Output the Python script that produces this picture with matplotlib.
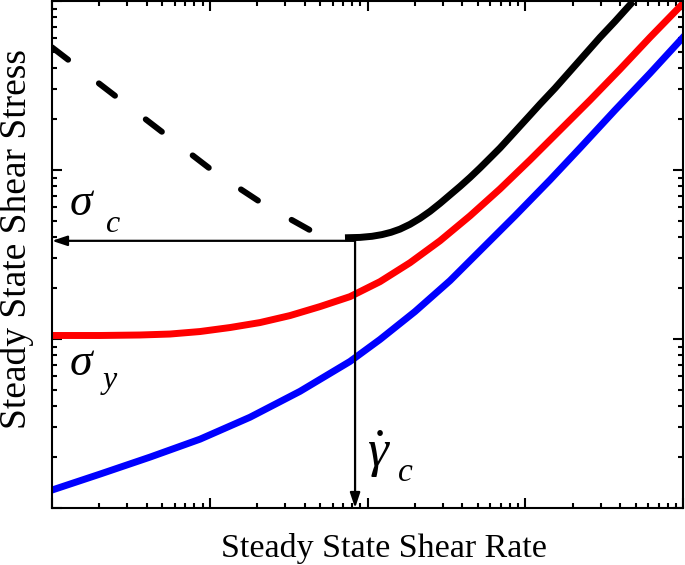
import matplotlib
matplotlib.use("Agg")
import matplotlib.pyplot as plt

# ---- data (log-log axes) ----
black_x = [0.720, 0.896, 1.068, 1.236, 1.409, 1.607, 1.860, 2.152, 2.490, 2.882,
           3.334, 3.858, 4.465, 5.166, 5.977, 6.917, 8.003, 9.262, 10.72, 12.40,
           15.44, 19.22, 23.92, 29.78, 37.06, 48.19]
black_y = [39.71, 39.92, 40.52, 41.47, 42.79, 44.68, 47.70, 51.75, 56.91, 63.44,
           71.21, 79.94, 90.32, 102.8, 117.7, 134.9, 156.5, 181.8, 211.1, 245.2,
           304.7, 383.8, 483.5, 609.2, 757.0, 993.3]

dash_x = [0.01, 0.1048, 0.2176, 0.4513]
dash_y = [531.8, 98.65, 63.01, 43.07]

red_x = [0.01, 0.02015, 0.03612, 0.05598, 0.08674, 0.1344, 0.2083, 0.3226, 0.4999,
         0.7747, 1.200, 1.860, 2.882, 4.465, 6.917, 10.72, 16.61, 25.73, 39.87,
         61.78, 100]
red_y = [10.49, 10.49, 10.56, 10.70, 11.07, 11.69, 12.51, 13.76, 15.55,
         17.81, 21.84, 28.27, 38.12, 53.53, 77.26, 114.6, 172.2, 258.8, 394.5,
         609.2, 966.7]

blue_x = [0.01, 0.02015, 0.04181, 0.08674, 0.1799, 0.3733, 0.7747, 1.200, 2.000,
          3.334, 5.166, 8.610, 14.35, 22.24, 37.06, 61.78, 100]
blue_y = [1.277, 1.587, 2.000, 2.554, 3.443, 4.901, 7.366, 9.933, 14.53,
          22.14, 33.28, 53.53, 87.30, 134.9, 225.9, 373.5, 609.2]

sigma_c = 38.1
gamma_c = 0.834
x_limits = [0.01, 100]
y_limits = [1, 1000]

# ---- fonts ----
plt.rcParams['font.family'] = ['Liberation Serif', 'DejaVu Serif']
plt.rcParams['mathtext.fontset'] = 'custom'
plt.rcParams['mathtext.rm'] = 'Liberation Serif'
plt.rcParams['mathtext.it'] = 'Liberation Serif:italic'

W, H = 685, 565
fig = plt.figure(figsize=(W / 100, H / 100), dpi=100)
ax = fig.add_axes([52 / W, (H - 508) / H, 631 / W, 507 / H])
ax.set_xscale('log')
ax.set_yscale('log')
ax.set_xlim(*x_limits)
ax.set_ylim(*y_limits)


def px(x, y):
    return x / W, 1 - y / H


# arrows
arrow_kw = dict(arrowstyle='-|>,head_length=0.45,head_width=0.15',
                color='black', lw=1.6, mutation_scale=20, shrinkA=0, shrinkB=0)
ax.annotate('', xy=(x_limits[0], sigma_c), xytext=(gamma_c, sigma_c),
            arrowprops=arrow_kw, annotation_clip=False)
ax.annotate('', xy=(gamma_c, y_limits[0]), xytext=(gamma_c, sigma_c),
            arrowprops=arrow_kw, annotation_clip=False)

# curves
ax.plot(dash_x, dash_y, color='black', lw=4.3, dashes=(3.4, 6.5),
        dash_capstyle='round', dash_joinstyle='round')
ax.plot(black_x, black_y, color='black', lw=5, solid_joinstyle='round',
        solid_capstyle='butt')
ax.plot(red_x, red_y, color='#ff0000', lw=5, solid_joinstyle='round')
ax.plot(blue_x, blue_y, color='#0000ff', lw=5, solid_joinstyle='round')

# symbols inside the plot
fig.text(*px(69, 215), r'$\sigma$', fontsize=33, ha='left', va='baseline')
fig.text(*px(105, 232), 'c', fontsize=23, style='italic', ha='left', va='baseline')
fig.text(*px(69, 375), r'$\sigma$', fontsize=33, ha='left', va='baseline')
fig.text(*px(103, 388), 'y', fontsize=23, style='italic', ha='left', va='baseline')
fig.text(*px(367, 467), r'$\dot{\gamma}$', fontsize=38, ha='left', va='baseline')
fig.text(*px(398, 481), 'c', fontsize=24, style='italic', ha='left', va='baseline')

# ticks
for s in ax.spines.values():
    s.set_linewidth(1.5)
ax.tick_params(which='both', direction='in', top=True, right=True,
               labelbottom=False, labelleft=False, width=1.5)
ax.tick_params(which='major', length=7.5)
ax.tick_params(which='minor', length=3.8)

# axis titles
fig.text(*px(384, 557), 'Steady State Shear Rate', fontsize=24.5,
         ha='center', va='baseline')
fig.text(*px(17, 239), 'Steady State Shear Stress', fontsize=27,
         ha='center', va='center', rotation=90)

fig.savefig('out.png', dpi=100)
